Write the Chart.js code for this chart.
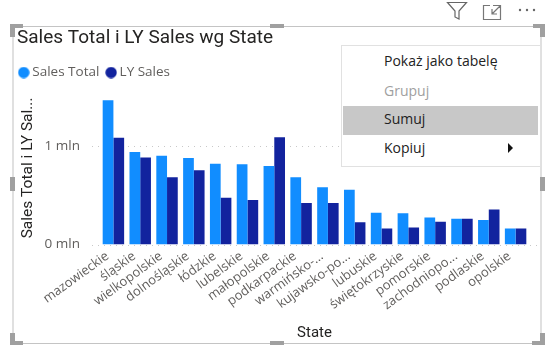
<!DOCTYPE html>
<html>
<head>
<meta charset="utf-8">
<script src="https://cdn.jsdelivr.net/npm/chart.js@4"></script>
<style>
html, body { margin: 0; padding: 0; background: #fff; overflow: hidden; }
#wrap { position: relative; width: 551px; height: 355px; }
#myChart { position: absolute; left: 0; top: 0; }
.line, .handle { position: absolute; }
.handle { background: #a0a0a0; }
#menu { position: absolute; left: 341px; top: 45px; width: 198px; height: 120px; background: #fff; border: 1px solid #e1e1e1; font: 14px "Open Sans", sans-serif; color: #222; }
#menu div { position: absolute; left: 1px; width: 195px; height: 29px; line-height: 29px; text-indent: 41px; }
#menu .off { color: #a0a0a0; }
#menu .on { background: #c8c8c8; line-height: 25px; }
#arrow { position: absolute; left: 166px; top: 97px; width: 0; height: 0; border-left: 5px solid #111; border-top: 5px solid transparent; border-bottom: 5px solid transparent; }
svg { position: absolute; }
</style>
</head>
<body>
<div id="wrap">
  <canvas id="myChart" width="551" height="355"></canvas>

  <div class="line" style="left:12px;top:26px;width:2px;height:318px;background:#e0e0e0"></div>
  <div class="line" style="left:540px;top:26px;width:2px;height:318px;background:#e0e0e0"></div>
  <div class="line" style="left:12px;top:26px;width:530px;height:1px;background:#c4c4c4"></div>
  <div class="line" style="left:12px;top:343px;width:530px;height:1px;background:#c4c4c4"></div>

  <div class="handle" style="left:10px;top:24px;width:13px;height:4px"></div>
  <div class="handle" style="left:10px;top:24px;width:5px;height:13px"></div>
  <div class="handle" style="left:533px;top:24px;width:12px;height:4px"></div>
  <div class="handle" style="left:540px;top:24px;width:5px;height:13px"></div>
  <div class="handle" style="left:10px;top:341px;width:13px;height:4px"></div>
  <div class="handle" style="left:10px;top:333px;width:5px;height:12px"></div>
  <div class="handle" style="left:532px;top:341px;width:13px;height:4px"></div>
  <div class="handle" style="left:540px;top:333px;width:5px;height:12px"></div>
  <div class="handle" style="left:270px;top:24px;width:14px;height:4px"></div>
  <div class="handle" style="left:270px;top:341px;width:14px;height:4px"></div>
  <div class="handle" style="left:10px;top:177px;width:5px;height:14px"></div>
  <div class="handle" style="left:540px;top:177px;width:5px;height:14px"></div>

  <svg style="left:445px;top:0" width="24" height="22"><path d="M2.5 2.5H21.5L14 11V19L10 17V11Z" fill="none" stroke="#666" stroke-width="1.2"/></svg>
  <svg style="left:482px;top:2" width="22" height="20"><path d="M8 3.5H1.5V17.5H18.5V10M11 3.5H18.5V10M18 4L10 12M10 7V12H15" fill="none" stroke="#777" stroke-width="1.2"/></svg>
  <svg style="left:516px;top:6" width="22" height="8"><circle cx="4" cy="4" r="1.2" fill="#666"/><circle cx="11" cy="4" r="1.2" fill="#666"/><circle cx="18" cy="4" r="1.2" fill="#666"/></svg>

  <div id="menu">
    <div style="top:0">Pokaż jako tabelę</div>
    <div class="off" style="top:30px">Grupuj</div>
    <div class="on" style="top:60px">Sumuj</div>
    <div style="top:87px">Kopiuj</div>
    <span id="arrow"></span>
  </div>
</div>

<script>
const states = ['mazowieckie', 'śląskie', 'wielkopolskie', 'dolnośląskie', 'łódzkie', 'lubelskie', 'małopolskie', 'podkarpackie', 'warmińsko-...', 'kujawsko-po...', 'lubuskie', 'świętokrzyskie', 'pomorskie', 'zachodniopo...', 'podlaskie', 'opolskie'];
const salesTotal = [1.46, 0.935, 0.897, 0.874, 0.816, 0.813, 0.793, 0.68, 0.578, 0.554, 0.32, 0.315, 0.274, 0.26, 0.247, 0.163];
const lySales = [1.08, 0.88, 0.68, 0.752, 0.473, 0.45, 1.086, 0.42, 0.42, 0.224, 0.163, 0.173, 0.23, 0.26, 0.355, 0.163];
const yTicks = [0, 1];

const grayText = '#605E5C';
const bodyFont = '"Open Sans", sans-serif';

// kolko legendy jako canvas, zeby tekst stal blisko znacznika
const legendDot = (color) => {
    const c = document.createElement('canvas');
    c.width = 12;
    c.height = 12;
    const g = c.getContext('2d');
    g.fillStyle = color;
    g.arc(6, 6, 5.7, 0, Math.PI * 2);
    g.fill();
    return c;
};

// linie siatki wychodza poza obszar slupkow, jak w Power BI
const dottedGrid = {
    id: 'dottedGrid',
    afterLayout(chart) {
        chart.legend.left -= 5;
        chart.legend.top -= 2;
    },
    beforeDatasetsDraw(chart) {
        const { ctx, chartArea, scales } = chart;
        ctx.save();
        ctx.strokeStyle = '#c8c8c8';
        ctx.setLineDash([1, 5]);
        yTicks.forEach(v => {
            const y = Math.round(scales.y.getPixelForValue(v)) + 0.5;
            ctx.beginPath();
            ctx.moveTo(chartArea.left - 8, y);
            ctx.lineTo(chartArea.right + 8, y);
            ctx.stroke();
        });
        ctx.restore();
    }
};

new Chart(document.querySelector('#myChart'), {
    type: 'bar',
    data: {
        labels: states,
        datasets: [
            { label: 'Sales Total', data: salesTotal, backgroundColor: '#118DFF' },
            { label: 'LY Sales', data: lySales, backgroundColor: '#12239E' }
        ]
    },
    options: {
        responsive: false,
        animation: false,
        categoryPercentage: 0.8,
        barPercentage: 1,
        layout: { padding: { left: 17, right: 22, top: 0, bottom: 12 } },
        scales: {
            x: {
                grid: { display: false },
                border: { display: false },
                afterFit: scale => { scale.height = 98.5; },
                ticks: {
                    autoSkip: false,
                    minRotation: 36,
                    maxRotation: 36,
                    padding: -4,
                    labelOffset: -6,
                    color: grayText,
                    font: { family: bodyFont, size: 13 }
                },
                title: {
                    display: true,
                    text: 'State',
                    color: '#252423',
                    padding: { top: 0, bottom: 1 },
                    font: { family: 'Roboto, sans-serif', size: 15 }
                }
            },
            y: {
                min: 0,
                max: 1.55,
                afterBuildTicks: scale => { scale.ticks = yTicks.map(v => ({ value: v })); },
                afterFit: scale => { scale.width = 83; },
                grid: { display: false, drawTicks: false },
                border: { display: false },
                ticks: {
                    padding: 20,
                    color: grayText,
                    font: { family: bodyFont, size: 13.5 },
                    callback: v => v + ' mln'
                },
                title: {
                    display: true,
                    text: 'Sales Total i LY Sal...',
                    color: '#252423',
                    padding: { top: 2, bottom: 0 },
                    font: { family: 'Roboto, sans-serif', size: 15.5 }
                }
            }
        },
        plugins: {
            tooltip: { enabled: false },
            title: {
                display: true,
                text: 'Sales Total i LY Sales wg State',
                align: 'start',
                color: '#252423',
                padding: { top: 27, bottom: 8 },
                font: { family: 'Roboto, sans-serif', size: 19, weight: 'normal' }
            },
            legend: {
                align: 'start',
                labels: {
                    usePointStyle: true,
                    pointStyleWidth: 3.5,
                    boxHeight: 11,
                    padding: 10,
                    color: grayText,
                    font: { family: bodyFont, size: 13.5 },
                    generateLabels: chart => Chart.defaults.plugins.legend.labels.generateLabels(chart).map(item => {
                        item.pointStyle = legendDot(item.fillStyle);
                        return item;
                    })
                }
            }
        }
    },
    plugins: [dottedGrid]
});
</script>
</body>
</html>
